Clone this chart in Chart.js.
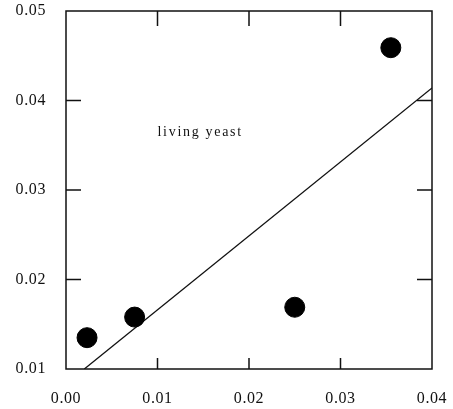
<!DOCTYPE html>
<html>
<head>
<meta charset="utf-8">
<script src="https://cdn.jsdelivr.net/npm/chart.js@4"></script>
<style>
  html, body { margin: 0; padding: 0; background: #fff; }
  canvas { display: block; }
</style>
</head>
<body>
<canvas id="yeastChart" width="453" height="409"></canvas>
<script>
// measured points
const xVals = [0.0023, 0.0075, 0.025, 0.0355];
const yVals = [0.0135, 0.0158, 0.0169, 0.0459];
// fitted line end points
const fitX = [0.002, 0.04];
const fitY = [0.01, 0.0414];
// axis ticks
const xTicks = [0.00, 0.01, 0.02, 0.03, 0.04];
const yTicks = [0.01, 0.02, 0.03, 0.04, 0.05];
const note = 'living yeast';

const serif = "'Liberation Serif', 'DejaVu Serif', serif";

// frame, inward ticks on all four sides, and the note text
const framePlugin = {
  id: 'frame',
  beforeDraw(chart) {
    chart.ctx.letterSpacing = '0.6px';
  },
  afterDraw(chart) {
    const { ctx, chartArea: a, scales } = chart;
    ctx.save();
    ctx.strokeStyle = '#111';
    ctx.lineWidth = 1.5;
    ctx.strokeRect(a.left, a.top, a.right - a.left, a.bottom - a.top);
    ctx.beginPath();
    xTicks.slice(1, -1).forEach(v => {
      const px = scales.x.getPixelForValue(v);
      ctx.moveTo(px, a.bottom); ctx.lineTo(px, a.bottom - 11);
      ctx.moveTo(px, a.top); ctx.lineTo(px, a.top + 15);
    });
    yTicks.slice(1, -1).forEach(v => {
      const py = scales.y.getPixelForValue(v);
      ctx.moveTo(a.left, py); ctx.lineTo(a.left + 15, py);
      ctx.moveTo(a.right, py); ctx.lineTo(a.right - 15, py);
    });
    ctx.stroke();
    ctx.fillStyle = '#111';
    ctx.font = '14px ' + serif;
    ctx.letterSpacing = '1.7px';
    ctx.textBaseline = 'middle';
    ctx.fillText(note, scales.x.getPixelForValue(0.01), scales.y.getPixelForValue(0.0364));
    ctx.restore();
  }
};

new Chart(document.getElementById('yeastChart'), {
  type: 'scatter',
  data: {
    datasets: [
      {
        data: fitX.map((x, i) => ({ x, y: fitY[i] })),
        showLine: true,
        borderColor: '#111',
        borderWidth: 1.3,
        pointRadius: 0,
        order: 2
      },
      {
        data: xVals.map((x, i) => ({ x, y: yVals[i] })),
        backgroundColor: '#000',
        borderColor: '#000',
        pointRadius: 10,
        order: 1
      }
    ]
  },
  options: {
    responsive: false,
    animation: false,
    layout: { padding: { top: 10, right: 21, left: 0, bottom: 0 } },
    plugins: { legend: { display: false }, tooltip: { enabled: false } },
    scales: {
      x: {
        type: 'linear',
        min: 0, max: 0.04,
        afterBuildTicks: s => { s.ticks = xTicks.map(v => ({ value: v })); },
        afterFit: s => { s.height = 40; s.paddingLeft = 0; s.paddingRight = 0; },
        grid: { display: false },
        border: { display: false },
        ticks: {
          padding: 12,
          color: '#111',
          maxRotation: 0,
          font: { family: serif, size: 16 },
          callback: v => Number(v).toFixed(2)
        }
      },
      y: {
        type: 'linear',
        min: 0.01, max: 0.05,
        afterBuildTicks: s => { s.ticks = yTicks.map(v => ({ value: v })); },
        afterFit: s => { s.width = 66; s.paddingTop = 0; s.paddingBottom = 0; },
        grid: { display: false },
        border: { display: false },
        ticks: {
          padding: 12,
          color: '#111',
          font: { family: serif, size: 16 },
          callback: v => Number(v).toFixed(2)
        }
      }
    }
  },
  plugins: [framePlugin]
});
</script>
</body>
</html>
